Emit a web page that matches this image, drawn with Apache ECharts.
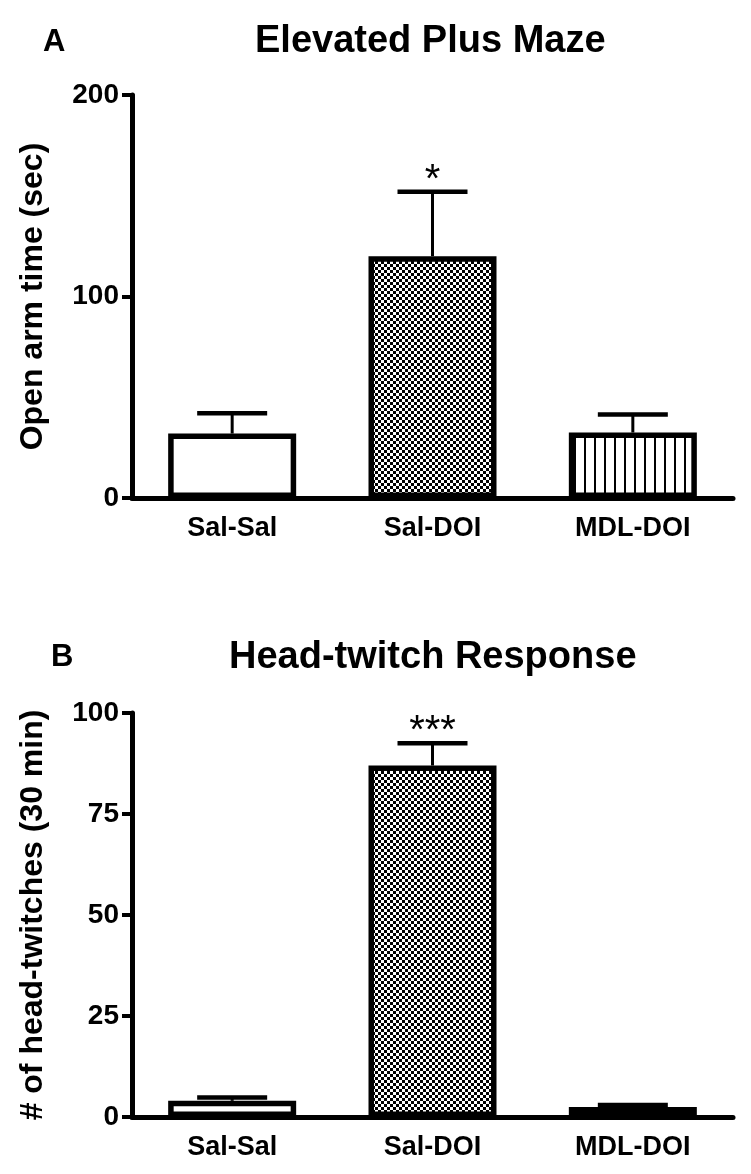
<!DOCTYPE html>
<html>
<head>
<meta charset="utf-8">
<script src="https://cdn.jsdelivr.net/npm/echarts@6/dist/echarts.min.js"></script>
<style>
html,body{margin:0;padding:0;background:#fff;}
#main{width:751px;height:1174px;}
</style>
</head>
<body>
<div id="main"></div>
<script>
// ---- data ----
const categories = ['Sal-Sal', 'Sal-DOI', 'MDL-DOI'];
const epmMean = [32, 120, 32.5];
const epmSem = [10, 32, 9];
const epmSig = ['', '*', ''];
const htrMean = [4, 87, 2.5];
const htrSem = [0.8, 5.5, 0.5];
const htrSig = ['', '***', ''];
const epmTicks = { min: 0, max: 200, interval: 100 };
const htrTicks = { min: 0, max: 100, interval: 25 };

const FONT = '"Liberation Sans", Arial, Helvetica, sans-serif';

function makeChecker() {
  const c = document.createElement('canvas');
  c.width = 6; c.height = 6;
  const g = c.getContext('2d');
  g.fillStyle = '#fff'; g.fillRect(0, 0, 6, 6);
  g.fillStyle = '#000'; g.fillRect(0, 0, 3, 3); g.fillRect(3, 3, 3, 3);
  return c;
}
function makeStripes() {
  const c = document.createElement('canvas');
  c.width = 10; c.height = 10;
  const g = c.getContext('2d');
  g.fillStyle = '#fff'; g.fillRect(0, 0, 10, 10);
  g.fillStyle = '#000'; g.fillRect(4, 0, 2, 10);
  return c;
}
const fills = ['#ffffff', { image: makeChecker(), repeat: 'repeat' }, { image: makeStripes(), repeat: 'repeat' }];

const chart = echarts.init(document.getElementById('main'), null, { renderer: 'canvas' });

const tickLabelStyle = { color: '#000', fontFamily: FONT, fontWeight: 'bold', fontSize: 28 };
const catLabelStyle = { color: '#000', fontFamily: FONT, fontWeight: 'bold', fontSize: 27 };

function xAxis(gridIndex) {
  return {
    type: 'category', gridIndex, data: categories,
    axisLine: { lineStyle: { color: '#000', width: 5 } },
    axisTick: { alignWithLabel: true, length: 10, lineStyle: { color: '#000', width: 4 } },
    axisLabel: Object.assign({ margin: 17 }, catLabelStyle),
    splitLine: { show: false }
  };
}
function yAxis(gridIndex, ticks, name) {
  return {
    type: 'value', gridIndex, min: ticks.min, max: ticks.max, interval: ticks.interval,
    name, nameLocation: 'middle', nameGap: 83,
    nameTextStyle: { color: '#000', fontFamily: FONT, fontWeight: 'bold', fontSize: 32 },
    axisLine: { show: true, lineStyle: { color: '#000', width: 5 } },
    axisTick: { show: true, length: 10, lineStyle: { color: '#000', width: 4 } },
    axisLabel: Object.assign({ margin: 13 }, tickLabelStyle),
    splitLine: { show: false }
  };
}
function barSeries(idx, values) {
  return {
    type: 'bar', xAxisIndex: idx, yAxisIndex: idx, barWidth: 128,
    data: values.map((v, i) => ({ value: v, itemStyle: { color: fills[i] } })),
    itemStyle: { borderColor: '#000', borderWidth: 5.5 },
    z: 3
  };
}
function errSeries(idx, means, sems, sigs) {
  return {
    type: 'custom', xAxisIndex: idx, yAxisIndex: idx, z: 2, clip: false,
    data: means.map((m, i) => [i, m, sems[i]]),
    encode: { x: 0, y: 1 },
    renderItem: function (params, api) {
      const i = api.value(0), m = api.value(1), s = api.value(2);
      const sig = sigs[params.dataIndex];
      const base = api.coord([i, m]);
      const top = api.coord([i, m + s]);
      const half = 35;
      return {
        type: 'group',
        children: [
          { type: 'line', shape: { x1: base[0], y1: base[1], x2: top[0], y2: top[1] }, style: { stroke: '#000', lineWidth: 3 } },
          { type: 'line', shape: { x1: top[0] - half, y1: top[1], x2: top[0] + half, y2: top[1] }, style: { stroke: '#000', lineWidth: 4.5 } },
          { type: 'text', style: { text: sig, x: top[0], y: top[1] + 9, align: 'center', verticalAlign: 'bottom', fill: '#000', font: '40px ' + FONT } }
        ]
      };
    }
  };
}

const titleStyle = { color: '#000', fontFamily: FONT, fontWeight: 'bold', fontSize: 38 };
const letterStyle = { color: '#000', fontFamily: FONT, fontWeight: 'bold', fontSize: 31 };

chart.setOption({
  animation: false,
  backgroundColor: '#fff',
  title: [
    { text: 'A', left: 38, top: 22, textStyle: letterStyle },
    { text: 'Elevated Plus Maze', left: 250, top: 18, textStyle: titleStyle },
    { text: 'B', left: 46, top: 637, textStyle: letterStyle },
    { text: 'Head-twitch Response', left: 224, top: 634, textStyle: titleStyle }
  ],
  grid: [
    { left: 132, right: 18, top: 95, bottom: 676 },
    { left: 132, right: 18, top: 713, bottom: 57 }
  ],
  xAxis: [xAxis(0), xAxis(1)],
  yAxis: [yAxis(0, epmTicks, 'Open arm time (sec)'), yAxis(1, htrTicks, '# of head-twitches (30 min)')],
  series: [
    barSeries(0, epmMean), errSeries(0, epmMean, epmSem, epmSig),
    barSeries(1, htrMean), errSeries(1, htrMean, htrSem, htrSig)
  ]
});
</script>
</body>
</html>
